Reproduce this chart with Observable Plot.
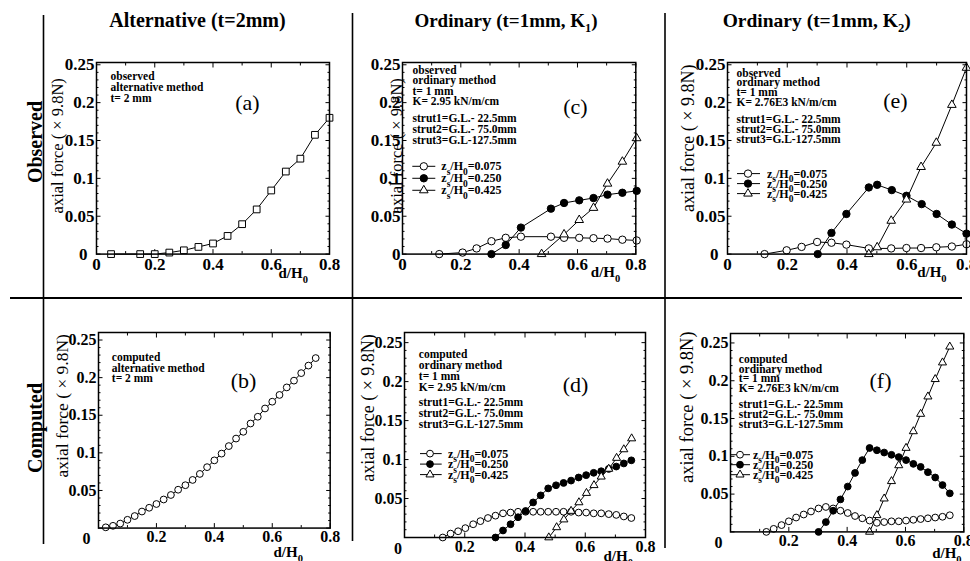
<!DOCTYPE html>
<html><head><meta charset="utf-8">
<script src="https://cdn.jsdelivr.net/npm/d3@7"></script>
<script src="https://cdn.jsdelivr.net/npm/@observablehq/plot@0.6"></script>
<style>
html,body{margin:0;padding:0;background:#fff;}
#chart{position:relative;width:970px;height:561px;overflow:hidden;background:#fff;}
.pan{position:absolute;}
.pan svg{max-width:none !important;}
</style></head><body><div id="chart"></div>
<script>
// ---------- ticks and labels ----------
const xTickMajor = [0, 0.2, 0.4, 0.6, 0.8];
const xTickMinor = [0.1, 0.3, 0.5, 0.7];
const yTickMajor = [0, 0.05, 0.1, 0.15, 0.2, 0.25];
const yTickMinor = [0.01,0.02,0.03,0.04,0.06,0.07,0.08,0.09,0.11,0.12,0.13,0.14,0.16,0.17,0.18,0.19,0.21,0.22,0.23,0.24];
const xTickLabelsTop = [0, 0.2, 0.4, 0.6, 0.8];
const xTickLabelsBottom = [0.2, 0.4, 0.6, 0.8];
const yTickLabels = [0.05, 0.1, 0.15, 0.2, 0.25];

const colHeaders = ["Alternative (t=2mm)", "Ordinary (t=1mm, K_1)", "Ordinary (t=1mm, K_2)"];
const rowHeaders = ["Observed", "Computed"];
const yAxisLabel = "axial force ( \u00d7 9.8N)";
const xAxisLabel = "d/H_0";
const legendLabels = ["z_s/H_0=0.075", "z_s/H_0=0.250", "z_s/H_0=0.425"];

const notesA = ["observed", "alternative method", "t= 2 mm"];
const notesB = ["computed", "alternative method", "t= 2 mm"];
const notesC1 = ["observed", "ordinary method", "t= 1 mm", "K= 2.95 kN/m/cm"];
const notesD1 = ["computed", "ordinary method", "t= 1 mm", "K= 2.95 kN/m/cm"];
const notesE1 = ["observed", "ordinary method", "t= 1 mm", "K= 2.76E3 kN/m/cm"];
const notesF1 = ["computed", "ordinary method", "t= 1 mm", "K= 2.76E3 kN/m/cm"];
const notesStrut = ["strut1=G.L.- 22.5mm", "strut2=G.L.- 75.0mm", "strut3=G.L-127.5mm"];

// ---------- (a) observed, alternative ----------
const aX = [0.05,0.15,0.2,0.25,0.3,0.35,0.4,0.45,0.5,0.55,0.6,0.65,0.7,0.75,0.8];
const aY = [0,0,0,0.002,0.005,0.0095,0.014,0.024,0.0395,0.059,0.084,0.109,0.126,0.1575,0.18];

// ---------- (b) computed, alternative ----------
const bX = [0.025,0.05,0.075,0.1,0.125,0.15,0.175,0.2,0.225,0.25,0.275,0.3,0.325,0.35,0.375,0.4,0.425,0.45,0.475,0.5,0.525,0.55,0.575,0.6,0.625,0.65,0.675,0.7,0.725,0.75];
const bY = [0.001,0.003,0.006,0.011,0.016,0.022,0.027,0.032,0.038,0.044,0.051,0.057,0.064,0.072,0.081,0.09,0.099,0.109,0.119,0.128,0.139,0.148,0.159,0.168,0.177,0.187,0.196,0.206,0.216,0.226];

// ---------- (c) observed, ordinary K1 ----------
const cOpenX = [0.126,0.206,0.254,0.305,0.354,0.406,0.509,0.554,0.606,0.655,0.703,0.754,0.803];
const cOpenY = [0,0.002,0.0075,0.017,0.0215,0.023,0.023,0.0215,0.0215,0.021,0.0205,0.019,0.018];
const cFillX = [0.305,0.354,0.406,0.509,0.554,0.606,0.655,0.703,0.754,0.803];
const cFillY = [0,0.012,0.035,0.06,0.0675,0.071,0.074,0.0785,0.081,0.0835];
const cTriX = [0.477,0.554,0.606,0.655,0.703,0.754,0.803];
const cTriY = [0,0.026,0.045,0.061,0.093,0.122,0.153];

// ---------- (d) computed, ordinary K1 ----------
const dOpenX = [0.127,0.153,0.178,0.202,0.228,0.252,0.277,0.302,0.327,0.352,0.377,0.402,0.427,0.452,0.477,0.503,0.528,0.553,0.578,0.603,0.628,0.653,0.678,0.703,0.728,0.753];
const dOpenY = [0,0.005,0.008,0.012,0.017,0.021,0.025,0.028,0.031,0.032,0.033,0.033,0.033,0.033,0.033,0.033,0.033,0.033,0.032,0.032,0.031,0.031,0.03,0.029,0.027,0.025];
const dFillX = [0.302,0.327,0.352,0.377,0.402,0.427,0.452,0.477,0.503,0.528,0.553,0.578,0.603,0.628,0.653,0.678,0.703,0.728,0.753];
const dFillY = [0,0.009,0.017,0.026,0.034,0.045,0.054,0.063,0.067,0.07,0.073,0.077,0.08,0.083,0.085,0.088,0.091,0.095,0.099];
const dTriX = [0.479,0.505,0.529,0.553,0.579,0.604,0.629,0.653,0.678,0.704,0.728,0.754];
const dTriY = [0,0.013,0.023,0.034,0.045,0.057,0.067,0.078,0.088,0.102,0.113,0.127];

// ---------- (e) observed, ordinary K2 ----------
const eOpenX = [0.124,0.198,0.248,0.3,0.348,0.398,0.473,0.548,0.599,0.648,0.699,0.751,0.8];
const eOpenY = [0,0.005,0.0095,0.016,0.015,0.0125,0.0075,0.0075,0.008,0.008,0.009,0.01,0.013];
const eFillX = [0.302,0.348,0.398,0.473,0.501,0.55,0.599,0.65,0.7,0.751,0.8];
const eFillY = [0,0.028,0.053,0.088,0.0915,0.0845,0.077,0.066,0.053,0.039,0.027];
const eTriX = [0.473,0.501,0.548,0.599,0.648,0.699,0.751,0.8];
const eTriY = [0,0.009,0.044,0.072,0.115,0.147,0.197,0.246];

// ---------- (f) computed, ordinary K2 ----------
const fOpenX = [0.123,0.148,0.175,0.2,0.225,0.251,0.276,0.302,0.327,0.352,0.377,0.402,0.427,0.452,0.477,0.502,0.527,0.552,0.577,0.602,0.627,0.652,0.677,0.702,0.727,0.752];
const fOpenY = [0,0.004,0.009,0.014,0.019,0.023,0.027,0.031,0.033,0.031,0.028,0.025,0.021,0.018,0.015,0.012,0.013,0.014,0.014,0.015,0.016,0.017,0.018,0.019,0.02,0.022];
const fFillX = [0.302,0.327,0.352,0.377,0.402,0.427,0.452,0.477,0.502,0.527,0.552,0.577,0.602,0.627,0.652,0.677,0.702,0.727,0.752];
const fFillY = [0,0.013,0.028,0.043,0.06,0.078,0.095,0.111,0.108,0.105,0.102,0.099,0.095,0.09,0.086,0.079,0.072,0.062,0.051];
const fTriX = [0.477,0.502,0.527,0.552,0.577,0.602,0.627,0.652,0.677,0.702,0.727,0.752];
const fTriY = [0,0.022,0.044,0.067,0.088,0.111,0.133,0.156,0.179,0.202,0.224,0.245];

// ---------- styles ----------
const FONT = "'Liberation Serif','Times New Roman',Times,serif";
const OPEN = {symbol: "circle", fill: "white"};
const FILL = {symbol: "circle", fill: "black"};
const TRI = {symbol: "triangle", fill: "white"};
const SQR = {symbol: "square", fill: "white"};

const panels = [
  {l: 96, t: 61.7, w: 233, h: 191.6, yMax: 0.253, row: 0,
   series: [{x: aX, y: aY, ...SQR, r: 3.8}],
   blocks: [{lines: notesA, dx: 14, base: 17.6, step: 11.2}],
   letter: "(a)", lp: [151, 40],
   yLab: {dx: -38.5, dy: -12.5, fs: 16.5}, xLab: {dx: -51, dy: 23.7},
   y0gap: 7},
  {l: 401.7, t: 61.7, w: 233.3, h: 191.6, yMax: 0.253, row: 0,
   series: [{x: cOpenX, y: cOpenY, ...OPEN, r: 3.7}, {x: cFillX, y: cFillY, ...FILL, r: 3.7}, {x: cTriX, y: cTriY, ...TRI, r: 3.2}],
   blocks: [{lines: notesC1, dx: 10, base: 11.3, step: 10.5}, {lines: notesStrut, dx: 10, base: 60, step: 10.8}],
   letter: "(c)", lp: [173, 44],
   yLab: {dx: -6, dy: -12.5, fs: 16.5}, xLab: {dx: -45, dy: 23.4},
   legend: {y0: 104.3, step: 12, x1: 10.3, x2: 33.3, mx: 21.8, tx: 39.3},
   y0gap: 0},
  {l: 727.3, t: 61.7, w: 239, h: 191.6, yMax: 0.253, row: 0,
   series: [{x: eOpenX, y: eOpenY, ...OPEN, r: 3.7}, {x: eFillX, y: eFillY, ...FILL, r: 3.7}, {x: eTriX, y: eTriY, ...TRI, r: 3.2}],
   blocks: [{lines: notesE1, dx: 9, base: 14.3, step: 9.6}, {lines: notesStrut, dx: 9, base: 61, step: 10}],
   letter: "(e)", lp: [168, 38],
   yLab: {dx: -39, dy: -20, fs: 18}, xLab: {dx: -49.3, dy: 23},
   legend: {y0: 111.6, step: 10, x1: 10, x2: 33, mx: 21, tx: 40},
   y0gap: 7},
  {l: 98.3, t: 331.7, w: 231.7, h: 195.6, yMax: 0.26, row: 1,
   series: [{x: bX, y: bY, ...OPEN, r: 3.4}],
   blocks: [{lines: notesB, dx: 13.3, base: 29, step: 10.2}],
   letter: "(b)", lp: [145, 48],
   yLab: {dx: -36, dy: -24.5, fs: 17.5}, xLab: {dx: -56.7, dy: 29.4},
   x0dx: -12},
  {l: 404, t: 331.7, w: 241, h: 205, yMax: 0.263, row: 1,
   series: [{x: dOpenX, y: dOpenY, ...OPEN, r: 3.4}, {x: dFillX, y: dFillY, ...FILL, r: 3.4}, {x: dTriX, y: dTriY, ...TRI, r: 3.0}],
   blocks: [{lines: notesD1, dx: 14.3, base: 25, step: 11.1}, {lines: notesStrut, dx: 14.3, base: 73.3, step: 11.2}],
   letter: "(d)", lp: [171, 52],
   yLab: {dx: -36.5, dy: -27, fs: 18}, xLab: {dx: -42, dy: 23},
   legend: {y0: 121.6, step: 10.5, x1: 16, x2: 37.7, mx: 26, tx: 44},
   x0dx: -6.5},
  {l: 730, t: 333.3, w: 233.3, h: 198.4, yMax: 0.2625, row: 1,
   series: [{x: fOpenX, y: fOpenY, ...OPEN, r: 3.4}, {x: fFillX, y: fFillY, ...FILL, r: 3.4}, {x: fTriX, y: fTriY, ...TRI, r: 3.0}],
   blocks: [{lines: notesF1, dx: 8.3, base: 29.4, step: 9.7}, {lines: notesStrut, dx: 8.3, base: 75, step: 10}],
   letter: "(f)", lp: [150, 47],
   yLab: {dx: -43, dy: -25.5, fs: 18.5}, xLab: {dx: -31.6, dy: 26},
   legend: {y0: 121.7, step: 10, x1: 0, x2: 20, mx: 10, tx: 23},
   x0dx: -12}
];

// ---------- helpers ----------
function subText(sel, str, fs, subFs, shift) {
  sel.text(null);
  const tokens = str.split(/(_.)/).filter(s => s.length);
  let offset = 0;
  for (const tok of tokens) {
    const isSub = tok.length === 2 && tok[0] === "_";
    const target = isSub ? shift : 0;
    const t = sel.append("tspan").text(isSub ? tok[1] : tok);
    if (target - offset !== 0) t.attr("dy", target - offset);
    if (isSub) t.attr("font-size", subFs);
    offset = target;
  }
}

const fmt = d => String(+d.toFixed(3));
const chart = document.getElementById("chart");
const mL = 60, mR = 24, mT = 12, mB = 44;

for (const p of panels) {
  const W = p.w + mL + mR, H = p.h + mT + mB;
  const tickFs = p.row === 0 ? 17 : 16;
  const noteFs = 11.5;
  const marks = [];
  // inward ticks: outward tick marks shifted back across the frame edge
  const tk = (ticks, size) => [
    Plot.axisX({ticks, anchor: "bottom", tickSize: size, dy: -size, fill: "none", label: null}),
    Plot.axisX({ticks, anchor: "top", tickSize: size, dy: size, fill: "none", label: null})
  ];
  const tkY = (ticks, size) => [
    Plot.axisY({ticks, anchor: "left", tickSize: size, dx: size, fill: "none", label: null}),
    Plot.axisY({ticks, anchor: "right", tickSize: size, dx: -size, fill: "none", label: null})
  ];
  marks.push(...tk(xTickMajor, 4.5), ...tk(xTickMinor, 2.5), ...tkY(yTickMajor, 4.5), ...tkY(yTickMinor, 2.5));
  // tick labels
  const lab = {tickSize: 0, tickFormat: fmt, label: null, fontSize: tickFs, fontWeight: "bold"};
  marks.push(Plot.axisY({...lab, ticks: yTickLabels, anchor: "left", tickPadding: 2}));
  if (p.row === 0) {
    marks.push(Plot.axisY({...lab, ticks: [0], anchor: "left", tickPadding: 2 + p.y0gap}));
    marks.push(Plot.axisX({...lab, ticks: xTickLabelsTop, anchor: "bottom", tickPadding: 4}));
  } else {
    marks.push(Plot.axisX({...lab, ticks: xTickLabelsBottom, anchor: "bottom", tickPadding: 3}));
    marks.push(Plot.axisX({...lab, ticks: [0], anchor: "bottom", tickPadding: 5, dx: p.x0dx}));
  }
  // data
  for (const s of p.series) {
    const data = s.x.map((x, i) => ({x, y: s.y[i]}));
    marks.push(Plot.line(data, {x: "x", y: "y", stroke: "black", strokeWidth: 1}));
  }
  for (const s of p.series) {
    const data = s.x.map((x, i) => ({x, y: s.y[i]}));
    marks.push(Plot.dot(data, {x: "x", y: "y", symbol: s.symbol, r: s.r, fill: s.fill, stroke: "black", strokeWidth: 1}));
  }
  marks.push(Plot.frame({stroke: "black", strokeWidth: 1.5}));
  // annotation text
  for (const b of p.blocks) {
    b.lines.forEach((t, i) => marks.push(Plot.text([t], {text: d => d, frameAnchor: "top-left", textAnchor: "start", lineAnchor: "bottom",
      dx: b.dx, dy: b.base + i * b.step, fontSize: noteFs, fontWeight: "bold"})));
  }
  marks.push(Plot.text([p.letter], {text: d => d, frameAnchor: "top-left", textAnchor: "middle", lineAnchor: "middle",
    dx: p.lp[0], dy: p.lp[1], fontSize: 22}));
  marks.push(Plot.text([yAxisLabel], {text: d => d, frameAnchor: "left", rotate: -90, textAnchor: "middle", lineAnchor: "middle",
    dx: p.yLab.dx, dy: p.yLab.dy, fontSize: p.yLab.fs}));
  marks.push(Plot.text([xAxisLabel], {text: d => d, frameAnchor: "bottom-right", textAnchor: "start", lineAnchor: "bottom",
    dx: p.xLab.dx, dy: p.xLab.dy, fontSize: 15, fontWeight: "bold"}));

  const svg = Plot.plot({
    width: W, height: H,
    marginLeft: mL, marginRight: mR, marginTop: mT, marginBottom: mB,
    x: {domain: [0, 0.8], label: null},
    y: {domain: [0, p.yMax], label: null},
    style: {fontFamily: FONT, background: "none", overflow: "visible", color: "black"},
    marks
  });
  const wrap = document.createElement("div");
  wrap.className = "pan";
  wrap.style.left = (p.l - mL) + "px";
  wrap.style.top = (p.t - mT) + "px";
  wrap.style.width = W + "px";
  wrap.style.height = H + "px";
  wrap.appendChild(svg);
  chart.appendChild(wrap);

  const s = d3.select(svg);
  // legend (key for the three strut series)
  if (p.legend) {
    const L = p.legend;
    const g = s.append("g").attr("transform", `translate(${mL},${mT})`);
    const symMap = {circle: d3.symbolCircle, triangle: d3.symbolTriangle, square: d3.symbolSquare};
    p.series.forEach((ser, i) => {
      const cy = L.y0 + i * L.step;
      g.append("line").attr("x1", L.x1).attr("x2", L.x2).attr("y1", cy).attr("y2", cy).attr("stroke", "black").attr("stroke-width", 1);
      g.append("path").attr("d", d3.symbol(symMap[ser.symbol], Math.PI * ser.r * ser.r)())
        .attr("transform", `translate(${L.mx},${cy})`).attr("fill", ser.fill).attr("stroke", "black").attr("stroke-width", 1);
      const t = g.append("text").attr("x", L.tx).attr("y", cy + 4).attr("text-anchor", "start")
        .attr("font-size", 12).attr("font-weight", "bold");
      subText(t, legendLabels[i], 12, 9.5, 4.5);
    });
  }
  // subscripts in Plot-made text
  s.selectAll("text").each(function () {
    const el = d3.select(this);
    if (this.children.length === 0 && this.textContent.includes("_")) {
      subText(el, this.textContent, 15, 10.5, 5);
    }
  });
}

// ---------- overlay: headers, row labels, dividers ----------
const ov = d3.select("#chart").append("svg")
  .attr("width", 970).attr("height", 561)
  .style("position", "absolute").style("left", "0px").style("top", "0px")
  .style("pointer-events", "none").style("font-family", FONT);
ov.append("line").attr("x1", 10).attr("x2", 962).attr("y1", 298).attr("y2", 298).attr("stroke", "black").attr("stroke-width", 2);
[[43.5, 15, 544], [352.5, 13, 541], [665, 13, 548]].forEach(([x, y1, y2]) =>
  ov.append("line").attr("x1", x).attr("x2", x).attr("y1", y1).attr("y2", y2).attr("stroke", "black").attr("stroke-width", 1.6));
const headerPos = [[197.5, 26.7, 20], [506, 26.7, 19], [816.7, 26.7, 19.5]];
colHeaders.forEach((h, i) => {
  const [x, y, fs] = headerPos[i];
  const t = ov.append("text").attr("x", x).attr("y", y).attr("text-anchor", "middle")
    .attr("font-size", fs).attr("font-weight", "bold");
  subText(t, h, fs, fs * 0.65, 5);
});
const rowPos = [[41.5, 142], [41.5, 428]];
rowHeaders.forEach((r, i) => {
  const [x, y] = rowPos[i];
  ov.append("text").attr("transform", `translate(${x},${y}) rotate(-90)`).attr("text-anchor", "middle")
    .attr("font-size", 20).attr("font-weight", "bold").text(r);
});
</script></body></html>
